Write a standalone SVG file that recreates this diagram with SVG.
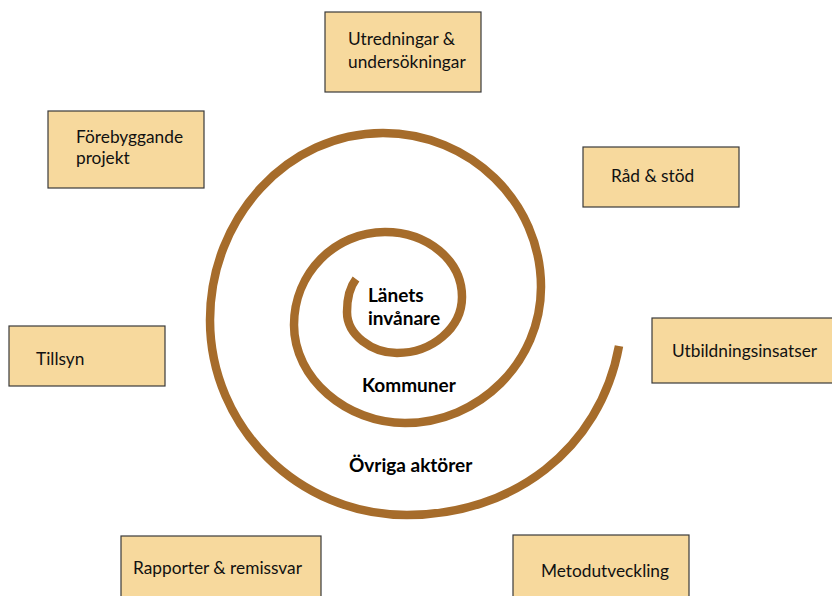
<svg xmlns="http://www.w3.org/2000/svg" width="832" height="596" viewBox="0 0 832 596">
<style>
.box{fill:#F7D99D;stroke:#3a3a3a;stroke-width:1.2}
.t{font-family:Lato,"Liberation Sans",sans-serif;font-size:17.3px;fill:#111}
.b{font-family:Lato,"Liberation Sans",sans-serif;font-size:19px;font-weight:bold;fill:#000}
.sp{fill:none;stroke:#A66C2B;stroke-width:8.5;stroke-linecap:butt}
</style>
<rect width="832" height="596" fill="#fff"/>
<g id="connectors">
<path class="sp" d="M356 279 C349 288 347 300 347 312 C347 335 372 353 397 353 C432 353 462 328 462 297 C462 260 427 232 385 232 C335 232 294 273 294 325 C294 379 347 423 405 423 C479 423 541 362 541 287 C541 202 470 133 383 133 C288 133 210 217 210 320 C210 427 298 515 407 515 C512 515 600 450 619 346"/>
</g>
<g id="center-labels">
<text class="b" x="368" y="302">Länets</text>
<text class="b" x="368" y="325">invånare</text>
<text class="b" x="362" y="392">Kommuner</text>
<text class="b" x="349" y="472">Övriga aktörer</text>
</g>
<g id="utredningar"><rect class="box" x="325" y="12" width="156" height="80"/><text class="t" x="348" y="45">Utredningar &amp;</text><text class="t" x="348" y="68">undersökningar</text></g>
<g id="forebyggande"><rect class="box" x="48" y="111" width="156" height="77"/><text class="t" x="76" y="143">Förebyggande</text><text class="t" x="76" y="164">projekt</text></g>
<g id="rad"><rect class="box" x="583" y="147" width="156" height="60"/><text class="t" x="611" y="182">Råd &amp; stöd</text></g>
<g id="tillsyn"><rect class="box" x="9" y="326" width="156" height="60"/><text class="t" x="36" y="365">Tillsyn</text></g>
<g id="utbildning"><rect class="box" x="652" y="318" width="185" height="65"/><text class="t" x="672" y="357">Utbildningsinsatser</text></g>
<g id="rapporter"><rect class="box" x="121" y="536" width="200" height="70"/><text class="t" x="133" y="574">Rapporter &amp; remissvar</text></g>
<g id="metod"><rect class="box" x="513" y="535" width="176" height="70"/><text class="t" x="541" y="577">Metodutveckling</text></g>
</svg>
